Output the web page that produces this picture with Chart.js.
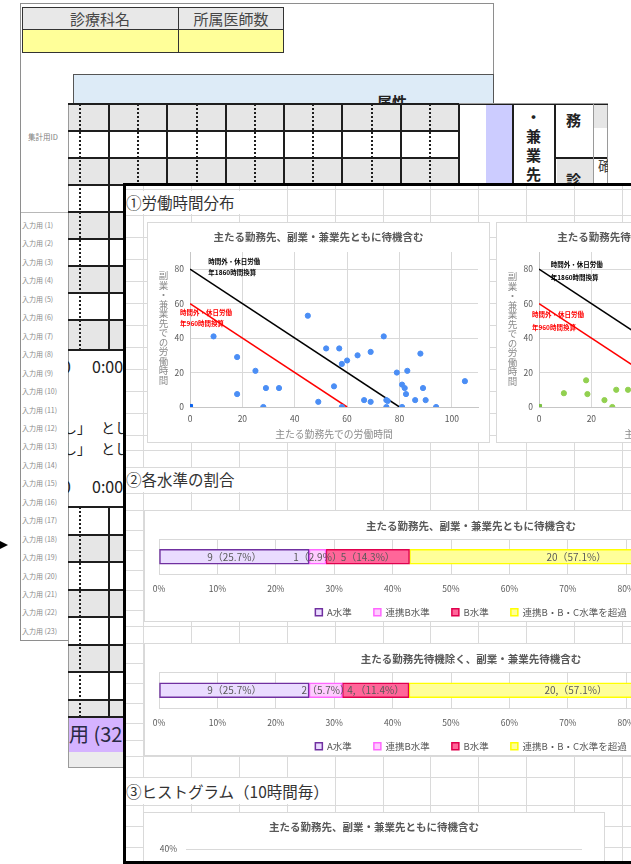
<!DOCTYPE html>
<html lang="ja">
<head>
<meta charset="utf-8">
<title>労働時間分布</title>
<script src="https://cdn.jsdelivr.net/npm/chart.js@4.4.1/dist/chart.umd.min.js"></script>
<style>
html,body{margin:0;padding:0;overflow:hidden;}
body{width:631px;height:864px;position:relative;background:#fff;font-family:"Noto Sans CJK JP","Noto Sans",sans-serif;}
.layer{position:absolute;left:0;top:0;width:631px;height:864px;overflow:hidden;}
.a{position:absolute;box-sizing:border-box;}
.t{position:absolute;white-space:nowrap;line-height:1;}
.holder{position:absolute;}
.vt{position:absolute;writing-mode:vertical-rl;text-orientation:upright;white-space:nowrap;line-height:1;}
</style>
</head>
<body>
<div id="s1" class="layer" style="clip-path:inset(3px 137px 223px 20px)"></div>
<div id="s2" class="layer" style="clip-path:inset(103px 23px 96px 68px)"></div>
<div id="s3" class="layer" style="clip-path:inset(183px 0 0 123px)"></div>
<div class="a" style="left:0;top:541px;width:0;height:0;border-left:8px solid #000;border-top:4px solid transparent;border-bottom:4px solid transparent"></div>

<script>
// ---------------- DATA ----------------
// Scatter 1: 主たる勤務先、副業・兼業先ともに待機含む  [主たる勤務先での労働時間, 副業・兼業先での労働時間]
const hoursBothWithStandby = [
  [9,41],[18,29],[18,7.5],[25,21],[28,0],[29,11],[34,11],[45,53],[49,3],[52,34],
  [55,12],[57,34],[58,25],[58,0],[60,27],[64,30],[66.5,4],[69,3],[69,32],[74,41],
  [75,4],[75.5,3.5],[75,0],[79,20],[81,13],[81,0],[82,11],[82.5,7.5],[83,21],[86,4],
  [88,31],[89,11],[90,4],[94,0],[105,15]
];
// Scatter 2: 主たる勤務先待機除く、副業・兼業先待機含む (visible part)
const hoursMainNoStandby = [
  [9.5,8],[18,15.5],[18.5,7.5],[25,4],[28,0],[29.5,10],[34,10]
];
const originPoint = [[0,0]];
// 時間外・休日労働の換算ライン
const limit1860 = [[0,80],[80,0]];
const limit960 = [[0,60],[60,0]];
const scatterXTicks = [0,20,40,60,80,100];
const scatterYTicks = [0,20,40,60,80];

// 各水準の割合
const levelNames = ['A水準','連携B水準','B水準','連携B・B・C水準を超過'];
const levelCounts1 = [9,1,5,20];
const levelPct1 = [25.7,2.9,14.3,57.1];
const levelText1 = ['9（25.7%）','1（2.9%）','5（14.3%）','20（57.1%）'];
const levelCounts2 = [9,2,4,20];
const levelPct2 = [25.7,5.7,11.4,57.1];
const levelText2 = ['9（25.7%）','2（5.7%）','4,（11.4%）','20,（57.1%）'];
const pctTicks = [0,10,20,30,40,50,60,70,80,90,100];

// ヒストグラム (only the top of the chart is visible; bars are outside the frame)
const histCategories = [];
const histShares = [];
const histTicks = [0,10,20,30,40];

// 入力用 rows
const inputRowCount = 23;

// ---------------- helpers ----------------
function el(p, cls, css, txt){const d=document.createElement('div');d.className=cls;d.style.cssText=css;if(txt!=null)d.textContent=txt;p.appendChild(d);return d;}
function rect(p,x,y,w,h,css){return el(p,'a',`left:${x}px;top:${y}px;width:${w}px;height:${h}px;${css||''}`);}
function text(p,x,y,s,css){return el(p,'t',`left:${x}px;top:${y}px;${css||''}`,s);}
const DOT = 'background:repeating-linear-gradient(to bottom,#1e1e1e 0 2px,transparent 2px 4px)';
const LINE = '#1e1e1e';

// ---------------- SHEET 1 ----------------
const s1 = document.getElementById('s1');
rect(s1,20,3,474,638,'background:#fff;border:1.5px solid #8e8e8e');
rect(s1,22,7,156,22,'background:#e8e8e8');
rect(s1,178,7,105,22,'background:#e8e8e8');
rect(s1,22,29,261,23,'background:#ffff99');
rect(s1,21.5,6.5,262.5,46.5,'border:1.5px solid #333');
rect(s1,21.5,28.5,262.5,1.5,'background:#333');
rect(s1,177.5,6.5,1.5,46.5,'background:#333');
text(s1,100,18,'診療科名','transform:translate(-50%,-50%);font-size:15px;color:#474747');
text(s1,231,18,'所属医師数','transform:translate(-50%,-50%);font-size:15px;color:#474747');
rect(s1,73,74,421,60,'background:#ddebf7;border:1px solid #555');
text(s1,377,94,'属性','font-size:15px;font-weight:bold;color:#222');
text(s1,28,133,'集計用ID','font-size:7.5px;color:#7f7f7f');
rect(s1,21,212,47,1,'background:#b8b8b8');
for(let n=1;n<=inputRowCount;n++){
  text(s1,22,222+(n-1)*18.45,'入力用 ('+n+')','font-size:7px;color:#8a8a8a');
}

// ---------------- SHEET 2 ----------------
const s2 = document.getElementById('s2');
rect(s2,68,103,540,665,'background:#fff;border:1px solid #9a9a9a');
const G2 = '#e6e6e6';
const topB = [104,131,158,185,212,239,266,293,320,350];
for(let i=0;i<topB.length-1;i++){ if(i%2===0) rect(s2,69,topB[i],390,topB[i+1]-topB[i],'background:'+G2); }
const botB = [507,535,562,590,617,645,672,700,717];
for(let i=0;i<botB.length-1;i++){ if(i%2===1) rect(s2,69,botB[i],390,botB[i+1]-botB[i],'background:'+G2); }
rect(s2,69,717,390,35,'background:#d5b3ff');
rect(s2,69,752,390,15,'background:#ececec');
const thickX=[109,167,226,284,342,401,459], dotX=[80,138,197,255,313,372,430];
[[104,350],[507,717]].forEach(([a,b])=>{
  thickX.forEach(x=>rect(s2,x-0.75,a,1.5,b-a,'background:'+LINE));
  dotX.forEach(x=>rect(s2,x-0.75,a,1.5,b-a,DOT));
});
topB.forEach(y=>rect(s2,68,y-0.75,391,1.5,'background:'+LINE));
botB.forEach(y=>rect(s2,68,y-0.75,391,1.5,'background:'+LINE));
rect(s2,68,103.5,540,1.5,'background:'+LINE);
// right-top cells
rect(s2,486,105,27,81,'background:#ccccff');
rect(s2,512.25,104,1.5,82,'background:'+LINE);
rect(s2,554.25,104,1.5,82,'background:'+LINE);
rect(s2,593,105,14,23,'background:'+G2);
rect(s2,557,158,36,28,'background:'+G2);
rect(s2,555,157,52,1.5,'background:'+LINE);
rect(s2,592.5,104,1,82,'background:#9a9a9a');
el(s2,'vt','left:526px;top:110px;font-size:15px;font-weight:bold;color:#222;letter-spacing:4px','・兼業先');
text(s2,566,112,'務','font-size:15px;font-weight:bold;color:#222');
text(s2,566,172,'診','font-size:15px;font-weight:bold;color:#222');
text(s2,598,158,'確','font-size:14px;color:#444');
// text area
text(s2,62,358,'0','font-size:16px;color:#222');
text(s2,92,358,'0:00','font-size:16px;color:#222');
text(s2,62,478,'0','font-size:16px;color:#222');
text(s2,92,478,'0:00','font-size:16px;color:#222');
text(s2,63,420,'し」','font-size:14px;color:#222');
text(s2,101,420,'とし','font-size:14px;color:#222');
text(s2,63,441,'し」','font-size:14px;color:#222');
text(s2,101,441,'とし','font-size:14px;color:#222');
text(s2,69,724,'用 (32','font-size:20px;color:#2a2a44');

// ---------------- SHEET 3 ----------------
const s3 = document.getElementById('s3');
rect(s3,123,183,520,690,'background:#fff');
const GL = '#dadada';
for(let x=143;x<640;x+=47.9) rect(s3,x,185,1,680,'background:'+GL);
const rows3=[189,215,237,259,281,303,325,347,369,391,413,435,450,467,493,510,530,550,570,590,610,626,643,663,683,703,723,740,756,777,805,826,847];
rows3.forEach(y=>rect(s3,124,y,520,1,'background:'+GL));
rect(s3,125,191,118,23,'background:#fff');
text(s3,126,195,'①労働時間分布','font-size:15.5px;color:#333');
rect(s3,125,468,118,24,'background:#fff');
text(s3,126,472,'②各水準の割合','font-size:15.5px;color:#333');
rect(s3,125,778,202,26,'background:#fff');
text(s3,126,784,'③ヒストグラム（10時間毎）','font-size:15.5px;color:#333');

const boxes = [
  ['sc1',147,222,343,221,221],
  ['sc2',496,222,343,221,221],
  ['lv1',144,510,654,112,117],
  ['lv2',144,643,654,113,118],
  ['hist',143,812,462,120,200]
];
boxes.forEach(([id,x,y,w,h,ch])=>{
  rect(s3,x,y,w,h,'background:#fff;border:1px solid #d9d9d9');
  const hd = el(s3,'holder',`left:${x}px;top:${y}px;width:${w}px;height:${ch}px`);
  const c = document.createElement('canvas'); c.id=id; hd.appendChild(c);
});
el(s3,'vt','left:158px;top:271px;font-size:9.5px;color:#8c8c8c','副業・兼業先での労働時間');
el(s3,'vt','left:507px;top:272px;font-size:9.5px;color:#8c8c8c','副業・兼業先での労働時間');
// sheet borders (front)
rect(s3,123,183,3,690,'background:#000');
rect(s3,123,183,520,2.5,'background:#000');
rect(s3,123,861,520,2.5,'background:#000');

// ---------------- CHARTS ----------------
Chart.defaults.font.family='"Noto Sans CJK JP","Noto Sans",sans-serif';
Chart.defaults.color='#595959';
Chart.defaults.animation=false;
const GRID='#d9d9d9';
const ticksFrom = list => s => { s.ticks = list.map(v=>({value:v})); };
const toXY = arr => arr.map(([x,y])=>({x,y}));

const notesPlugin = {
  id:'notes',
  afterDatasetsDraw(chart,args,opts){
    const {ctx,scales:{x,y}}=chart;
    (opts.items||[]).forEach(it=>{
      ctx.save();
      ctx.font='bold 6.5px "Noto Sans CJK JP"';
      ctx.fillStyle=it.color; ctx.textAlign='left'; ctx.textBaseline='middle';
      ctx.fillText(it.text,x.getPixelForValue(it.x),y.getPixelForValue(it.y));
      ctx.restore();
    });
  }
};
const valueLabelPlugin = {
  id:'valueLabels',
  afterDatasetsDraw(chart){
    const ctx=chart.ctx;
    ctx.save();
    ctx.font='10px "Noto Sans CJK JP"';
    ctx.fillStyle='#595959'; ctx.textAlign='center'; ctx.textBaseline='middle';
    chart.data.datasets.forEach((ds,i)=>{
      chart.getDatasetMeta(i).data.forEach((bar,j)=>{
        ctx.fillText(ds.valueText[j],(bar.x+bar.base)/2,bar.y);
      });
    });
    ctx.restore();
  }
};

function scatterChart(id,title,pts,ptColor,originColor,notes){
  return new Chart(document.getElementById(id),{
    type:'scatter',
    data:{datasets:[
      {label:'年1860時間換算',data:toXY(limit1860),showLine:true,borderColor:'#000',borderWidth:1.5,pointRadius:0,order:3},
      {label:'年960時間換算',data:toXY(limit960),showLine:true,borderColor:'#ff0000',borderWidth:1.5,pointRadius:0,order:2},
      {label:'労働時間',data:toXY(pts),backgroundColor:ptColor,borderColor:ptColor,pointRadius:2.6,order:1},
      {label:'原点',data:toXY(originPoint),pointStyle:'rect',pointRadius:3.6,backgroundColor:originColor,borderColor:originColor,order:0}
    ]},
    options:{
      responsive:true,maintainAspectRatio:false,animation:false,layout:{padding:0},
      scales:{
        x:{type:'linear',min:0,max:110,afterBuildTicks:ticksFrom(scatterXTicks),
           ticks:{font:{size:8.5},color:'#595959',padding:6.4},
           grid:{color:GRID,drawTicks:false},border:{color:'#c6c6c6'},
           title:{display:true,text:'主たる勤務先での労働時間',font:{size:9.8},color:'#8c8c8c',padding:{top:0,bottom:3.1}},
           afterFit:s=>{s.height=36;}},
        y:{type:'linear',min:0,max:90,afterBuildTicks:ticksFrom(scatterYTicks),
           ticks:{font:{size:8.5},color:'#595959',padding:6},
           grid:{color:GRID,drawTicks:false},border:{color:'#c6c6c6'},
           afterFit:s=>{s.width=43;}},
        pad:{type:'linear',position:'right',ticks:{display:false},grid:{display:false},border:{display:false},afterFit:s=>{s.width=12;}}
      },
      plugins:{
        legend:{display:false},tooltip:{enabled:false},
        title:{display:true,text:title,font:{size:10.5,weight:'bold'},color:'#595959',padding:{top:8.7,bottom:8.7}},
        notes:{items:notes}
      }
    },
    plugins:[notesPlugin]
  });
}

function levelChart(id,title,pct,labels){
  const fills=['#eadcff','#ffccff','#ff6699','#ffff99'];
  const borders=['#7030a0','#ff66ff','#e0004d','#ffff00'];
  return new Chart(document.getElementById(id),{
    type:'bar',
    data:{labels:[''],datasets:levelNames.map((n,i)=>({label:n,data:[pct[i]],valueText:[labels[i]],backgroundColor:fills[i],borderColor:borders[i],borderWidth:1.5,borderSkipped:false,barThickness:15}))},
    options:{
      indexAxis:'y',responsive:true,maintainAspectRatio:false,animation:false,layout:{padding:0},
      scales:{
        x:{stacked:true,min:0,max:100,afterBuildTicks:ticksFrom(pctTicks),
           ticks:{callback:v=>v+'%',font:{size:8.5},color:'#595959',mirror:true,padding:-19.1},
           grid:{color:GRID,drawTicks:false},border:{display:false},afterFit:s=>{s.height=11;}},
        y:{stacked:true,ticks:{display:false},grid:{color:GRID,drawTicks:false,offset:true},border:{display:false},afterFit:s=>{s.width=15;}},
        pad:{type:'linear',position:'right',ticks:{display:false},grid:{display:false},border:{display:false},afterFit:s=>{s.width=55;}}
      },
      plugins:{
        tooltip:{enabled:false},
        title:{display:true,text:title,font:{size:10.5,weight:'bold'},color:'#595959',padding:{top:9.7,bottom:6.7}},
        legend:{position:'bottom',labels:{boxWidth:7,boxHeight:7,padding:22,font:{size:9.5},color:'#595959'}}
      }
    },
    plugins:[valueLabelPlugin]
  });
}

scatterChart('sc1','主たる勤務先、副業・兼業先ともに待機含む',hoursBothWithStandby,'#4b8ef5','#0b63ef',[
  {text:'時間外・休日労働',x:7,y:84.2,color:'#000'},
  {text:'年1860時間換算',x:7,y:77.8,color:'#000'},
  {text:'時間外・休日労働',x:-3.8,y:55,color:'#ff0000'},
  {text:'年960時間換算',x:-3.8,y:48.2,color:'#ff0000'}
]);
scatterChart('sc2','主たる勤務先待機除く、副業・兼業先待機含む',hoursMainNoStandby,'#92d050','#7ac143',[
  {text:'時間外・休日労働',x:4.5,y:82.6,color:'#000'},
  {text:'年1860時間換算',x:4.5,y:75,color:'#000'},
  {text:'時間外・休日労働',x:-2.7,y:53.6,color:'#ff0000'},
  {text:'年960時間換算',x:-2.7,y:46,color:'#ff0000'}
]);
levelChart('lv1','主たる勤務先、副業・兼業先ともに待機含む',levelPct1,levelText1);
levelChart('lv2','主たる勤務先待機除く、副業・兼業先待機含む',levelPct2,levelText2);

new Chart(document.getElementById('hist'),{
  type:'bar',
  data:{labels:histCategories,datasets:[{label:'割合',data:histShares,backgroundColor:'#5b9bd5'}]},
  options:{
    responsive:true,maintainAspectRatio:false,animation:false,layout:{padding:0},
    scales:{
      x:{grid:{display:false},border:{display:false},ticks:{font:{size:8.5}},afterFit:s=>{s.height=30;}},
      y:{min:0,max:40,afterBuildTicks:ticksFrom(histTicks),ticks:{callback:v=>v+'%',font:{size:8.5},color:'#595959',padding:9},
         grid:{color:GRID,drawTicks:false},border:{display:false},afterFit:s=>{s.width=43;}},
      pad:{type:'linear',position:'right',ticks:{display:false},grid:{display:false},border:{display:false},afterFit:s=>{s.width=23;}}
    },
    plugins:{
      legend:{display:false},tooltip:{enabled:false},
      title:{display:true,text:'主たる勤務先、副業・兼業先ともに待機含む',font:{size:10.5,weight:'bold'},color:'#595959',padding:{top:8.7,bottom:15.7}}
    }
  }
});
</script>
</body>
</html>
